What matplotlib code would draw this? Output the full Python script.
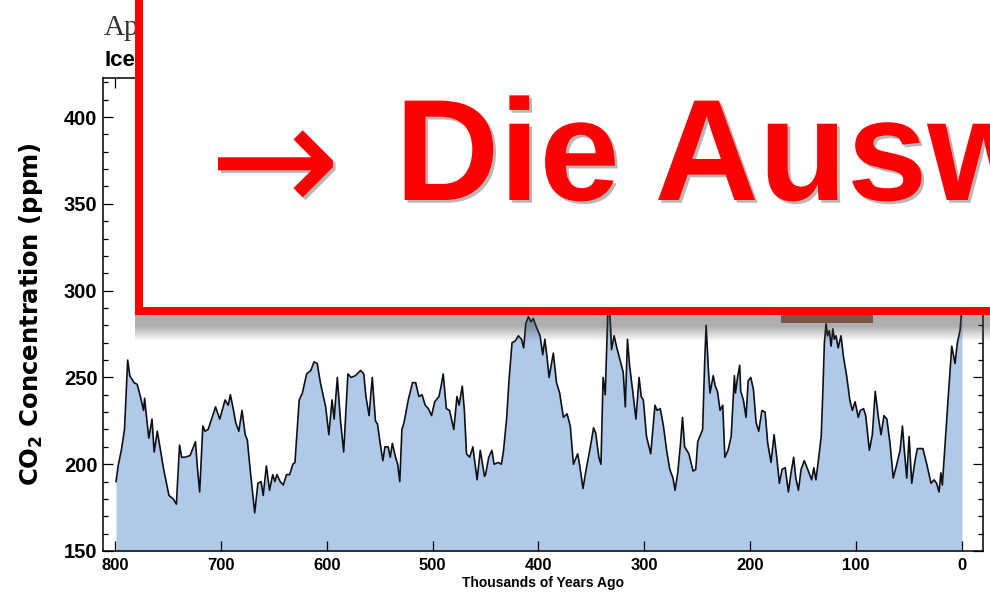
import numpy as np
import matplotlib
matplotlib.use("Agg")
import matplotlib.pyplot as plt
from matplotlib.patches import Rectangle
from matplotlib.ticker import MultipleLocator
import matplotlib.patheffects as pe

# ---- data (thousands of years ago, CO2 ppm) ----
kyr_ago = [799, 797, 794, 791, 788, 786, 782, 779, 776, 773, 772, 770, 768, 765, 763, 760,
           754, 749, 745, 742, 739, 737, 734, 729, 724, 722, 720, 717, 715, 712, 705, 701,
           696, 693, 691, 688, 686, 683, 680, 677, 675, 672, 668, 665, 662, 660, 657, 654,
           651, 649, 647, 644, 641, 638, 635, 632, 630, 626, 623, 619, 615, 612, 609, 606,
           601, 598, 595, 593, 590, 587, 584, 580, 577, 573, 568, 565, 563, 560, 557, 554,
           552, 550, 547, 545, 542, 540, 538, 535, 533, 531, 529, 527, 523, 519, 516, 513,
           510, 507, 504, 501, 498, 494, 492, 490, 487, 484, 480, 477, 475, 472, 470, 468,
           465, 462, 458, 455, 451, 450, 447, 444, 442, 438, 435, 433, 430, 428, 425, 422,
           419, 416, 414, 412, 409.5, 407, 405, 402, 398.5, 396, 394, 392, 390, 386, 383, 380,
           376.5, 373, 370, 367, 363, 361, 358, 355, 351, 348, 346, 343, 341, 339, 337, 335,
           334, 332, 331, 328.6, 326, 323, 320, 318, 316, 314, 311, 308, 305, 303, 301, 298,
           294, 290, 288, 285, 282, 279, 276, 273, 271, 268.5, 266, 264, 262, 258, 254, 251.5,
           249.6, 247, 245, 243, 241.7, 239.5, 238, 235, 233, 231, 228.5, 226, 224, 221, 218, 215,
           214, 212, 210, 209, 206.5, 204, 202, 199.5, 197, 194.5, 192, 189, 186, 183.5, 180.4, 177.5,
           175, 172.5, 170, 167, 164, 161.5, 159, 157, 154.5, 152, 149, 147, 144.5, 142, 140, 138,
           135.7, 133, 131.5, 130, 128.4, 127, 125.3, 123.7, 122, 120.6, 119, 117, 114.3, 112, 109, 106,
           103.6, 101, 98, 96, 93, 91, 87.5, 84.7, 82, 79, 76.5, 73.7, 71, 68, 65, 62,
           58.5, 56.3, 54.5, 52.2, 50, 47.5, 44.4, 42.2, 37, 33.3, 29.3, 26.4, 24, 21.7, 20, 18.6,
           16, 13, 9.7, 6.6, 4.4, 1.9, 0.8, 0.0]
co2_ppm = [190, 199, 208, 220, 260, 251, 247, 246, 239, 231, 238, 226, 215, 226, 207, 219,
           197, 182, 180, 177, 211, 204, 204, 205, 213, 197, 184, 222, 219, 220, 233, 226,
           237, 234, 240, 231, 224, 219, 231, 217, 214, 195, 172, 189, 190, 182, 199, 185,
           194, 190, 194, 190, 188, 194, 194, 200, 201, 237, 241, 252, 254, 259, 258, 247,
           233, 217, 237, 226, 250, 225, 207, 252, 250, 251, 254, 252, 239, 228, 250, 225,
           223, 214, 202, 210, 210, 204, 212, 204, 200, 190, 220, 224, 237, 247, 247, 239,
           240, 234, 232, 228, 236, 239, 245, 252, 232, 231, 220, 239, 234, 245, 231, 206,
           204, 210, 191, 208, 193, 194, 204, 208, 200, 201, 200, 208, 227, 247, 270, 271,
           274, 272, 267, 281, 285, 282, 284, 279, 274, 263, 272, 262, 250, 264, 247, 241,
           227, 229, 222, 200, 206, 199, 186, 197, 210, 221, 218, 204, 200, 250, 240, 280,
           298, 280, 266, 274, 267, 260, 253, 233, 272, 257, 242, 226, 250, 239, 237, 216,
           206, 234, 231, 232, 222, 208, 197, 192, 185, 195, 211, 227, 210, 206, 196, 197,
           213, 217, 220, 260, 280, 254, 241, 251, 245, 242, 231, 234, 204, 208, 216, 251,
           241, 250, 257, 242, 237, 227, 248, 250, 243, 224, 219, 231, 230, 212, 201, 217,
           204, 189, 197, 198, 184, 195, 204, 192, 185, 197, 202, 199, 195, 191, 198, 191,
           202, 216, 241, 270, 281, 274, 277, 268, 278, 272, 274, 267, 274, 262, 251, 237,
           231, 236, 227, 231, 232, 228, 208, 217, 242, 227, 217, 228, 226, 212, 192, 199,
           208, 222, 208, 192, 216, 189, 202, 209, 209, 200, 189, 191, 189, 184, 195, 188,
           212, 239, 268, 258, 270, 277, 285, 390]

x_ticks = [800, 700, 600, 500, 400, 300, 200, 100, 0]
y_ticks = [150, 200, 250, 300, 350, 400]

W, H = 990, 599
fig = plt.figure(figsize=(W / 100, H / 100), dpi=100)
fig.patch.set_facecolor("white")


def fx(px):
    return px / W


def fy(py):
    return 1 - py / H


ax = fig.add_axes([fx(103), fy(551), fx(983) - fx(103), fy(78) - fy(551)])
ax.set_zorder(1)
ax.fill_between(kyr_ago, co2_ppm, 150, color="#b1c9e8", lw=0, zorder=1)
ax.plot(kyr_ago, co2_ppm, color="#0d1117", lw=1.2, zorder=2)
ax.set_xlim(811.3, -19.8)
ax.set_ylim(150, 422.5)
ax.set_xticks(x_ticks)
ax.set_yticks(y_ticks)
ax.yaxis.set_minor_locator(MultipleLocator(10))
ax.tick_params(which="both", direction="in", top=True, right=True, width=0.9, colors="black")
ax.tick_params(which="major", length=7)
ax.tick_params(which="minor", length=3.6)
ax.tick_params(axis="y", which="major", labelsize=14.5, pad=4)
ax.tick_params(axis="x", which="major", labelsize=12, pad=5)
for lab in ax.get_xticklabels() + ax.get_yticklabels():
    lab.set_fontweight("bold")
    lab.set_family("Liberation Sans")
for s in ax.spines.values():
    s.set_linewidth(1.1)
    s.set_color("black")

ax.set_ylabel(r"CO$_\mathbf{2}$ Concentration (ppm)", fontsize=17.5, fontweight="bold",
              family="DejaVu Sans", va="center")
ax.yaxis.set_label_coords((31 - 103) / 880, 0.5)
ax.set_xlabel("Thousands of Years Ago", fontsize=10, fontweight="bold", family="Liberation Sans")
ax.xaxis.set_label_coords(0.5, (551 - 576) / 473)

# title fragments visible left of the overlay box
fig.text(fx(104), fy(35), "Ap", fontsize=21, family="Liberation Serif", color="#333333",
         va="baseline", ha="left", zorder=2)
fig.text(fx(104), fy(66), "Ice", fontsize=16, family="Liberation Sans", fontweight="bold",
         color="black", va="baseline", ha="left", zorder=2)

# drop shadow below the box
sh_ax = fig.add_axes([fx(135), fy(342), fx(990) - fx(135), fy(315) - fy(342)])
sh_ax.set_zorder(5)
sh_ax.set_axis_off()
rows = np.arange(27)
alpha = np.where(rows < 11, 0.42, np.clip(0.42 * (1 - (rows - 11) / 15.0), 0, 1))
img = np.zeros((27, 2, 4))
img[..., 0:3] = 0.25
img[..., 3] = alpha[:, None]
sh_ax.imshow(img, aspect="auto", extent=[0, 1, 0, 1], interpolation="bilinear")

# small piece of photo peeking under the box
fig.add_artist(Rectangle((fx(781), fy(323)), fx(873) - fx(781), fy(315) - fy(323),
                         transform=fig.transFigure, facecolor="#7a5646", edgecolor="none",
                         zorder=6))

# red framed white box
fig.add_artist(Rectangle((fx(139), fy(311)), fx(1010) - fx(139), fy(-20) - fy(311),
                         transform=fig.transFigure, facecolor="white", edgecolor="#ff0000",
                         linewidth=5.8, zorder=7))

shadow = [pe.withSimplePatchShadow(offset=(2, -2), shadow_rgbFace="#888888", alpha=0.6)]
fig.text(fx(209), fy(213), "\u2192", fontsize=113, family=["DejaVu Sans"], color="#ff0000",
         va="baseline", ha="left", zorder=8, path_effects=shadow)
fig.text(fx(395), fy(200), "Die Ausw", fontsize=104, family="Liberation Sans",
         fontweight="bold", color="#ff0000", va="baseline", ha="left", zorder=8,
         path_effects=shadow)

fig.savefig("out.png", dpi=100, facecolor="white")
